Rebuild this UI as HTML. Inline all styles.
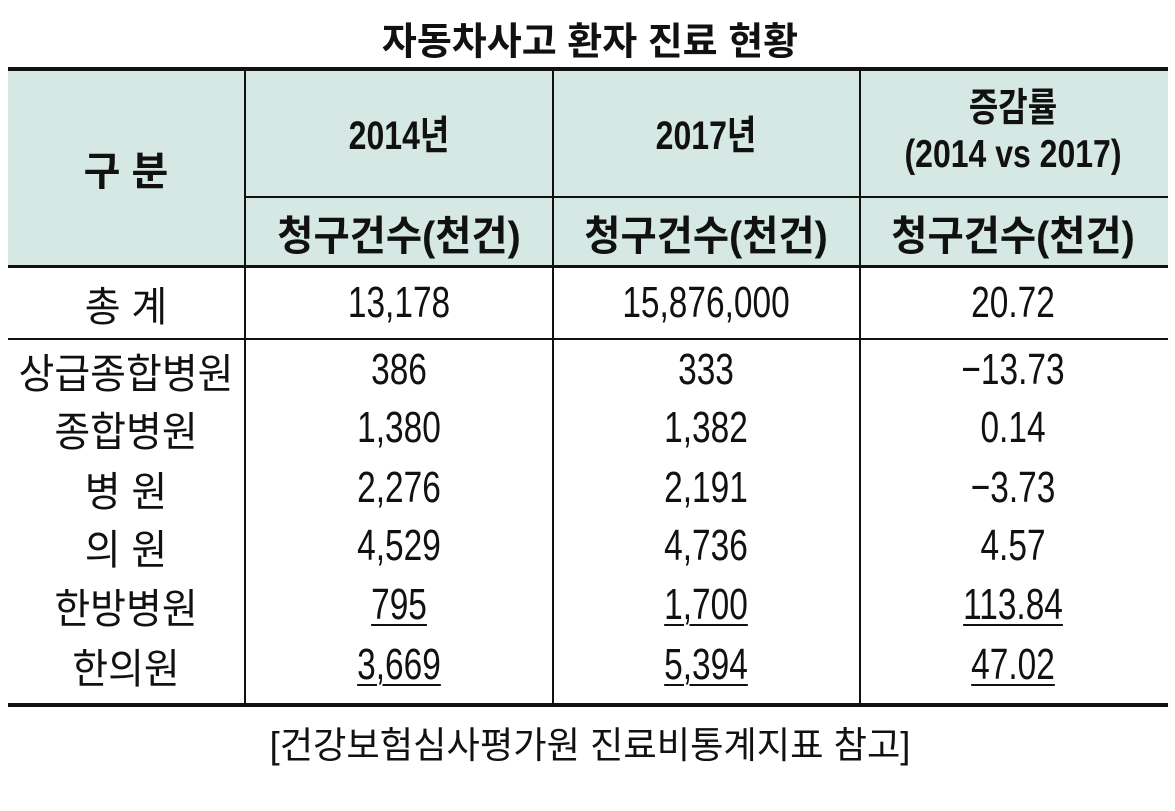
<!DOCTYPE html>
<html><head><meta charset="utf-8"><style>
body{margin:0;width:1175px;height:811px;background:#fff;position:relative;overflow:hidden;font-family:"Liberation Sans","Noto Sans CJK KR",sans-serif;color:#111}
.a{position:absolute}
.t{position:absolute;text-align:center;white-space:nowrap;transform:translate(-50%,-50%) scaleX(var(--sx,0.88))}
.b{font-weight:bold}
.hl{position:absolute;background:#111}
.u{text-decoration:underline;text-decoration-thickness:2px;text-underline-offset:5px}
</style></head><body>
<div class="t b" style="left:590px;top:38px;font-size:38px;--sx:1.0">자동차사고 환자 진료 현황</div>
<div class="a" style="left:8px;top:70px;width:1160px;height:196px;background:#d6e8e3"></div>
<div class="hl" style="left:8px;top:67px;width:1160px;height:4px"></div>
<div class="hl" style="left:8px;top:265px;width:1160px;height:3px"></div>
<div class="hl" style="left:245px;top:196px;width:923px;height:1.5px"></div>
<div class="hl" style="left:8px;top:338px;width:1160px;height:1.5px"></div>
<div class="hl" style="left:8px;top:703px;width:1160px;height:4px"></div>
<div class="hl" style="left:244px;top:70px;width:1.5px;height:634px"></div>
<div class="hl" style="left:552px;top:70px;width:1.5px;height:634px"></div>
<div class="hl" style="left:859px;top:70px;width:1.5px;height:634px"></div>

<div class="t b" style="left:126px;top:168px;font-size:40px;--sx:1.0">구 분</div>
<div class="t b" style="left:399px;top:132px;font-size:40px;--sx:0.8">2014년</div>
<div class="t b" style="left:706px;top:132px;font-size:40px;--sx:0.8">2017년</div>
<div class="t b" style="left:1013px;top:132px;font-size:39px;line-height:46px;--sx:0.82">증감률<br>(2014 vs 2017)</div>
<div class="t b" style="left:399px;top:232px;font-size:41px;--sx:0.96">청구건수(천건)</div>
<div class="t b" style="left:706px;top:232px;font-size:41px;--sx:0.96">청구건수(천건)</div>
<div class="t b" style="left:1013px;top:232px;font-size:41px;--sx:0.96">청구건수(천건)</div>

<div id="rows"></div>
<div class="t" style="left:590px;top:742px;font-size:37px;--sx:0.98">[건강보험심사평가원 진료비통계지표 참고]</div>
<script>
const labels=["총 계","상급종합병원","종합병원","병 원","의 원","한방병원","한의원"];
const v2014=["13,178","386","1,380","2,276","4,529","795","3,669"];
const v2017=["15,876,000","333","1,382","2,191","4,736","1,700","5,394"];
const rates=["20.72","−13.73","0.14","−3.73","4.57","113.84","47.02"];
const ys=[303,370,428,488,546,605,665];
const root=document.getElementById('rows');
function cell(x,y,txt,name,und,fs,sx){
  const d=document.createElement('div');
  d.className='t';
  d.style.left=x+'px';d.style.top=y+'px';d.style.fontSize=fs+'px';
  d.style.setProperty('--sx',sx);
  const s=document.createElement('span');
  if(und)s.className='u';
  s.textContent=txt;d.appendChild(s);
  
  
  root.appendChild(d);
}
labels.forEach((l,i)=>{
  const u=i>=5;
  cell(126,ys[i],l,'row-label',false,41,0.95);
  cell(399,ys[i],v2014[i],'value-2014',u,44,0.76);
  cell(706,ys[i],v2017[i],'value-2017',u,44,0.76);
  cell(1013,ys[i],rates[i],'change-rate',u,44,0.76);
});
</script>
</body></html>
